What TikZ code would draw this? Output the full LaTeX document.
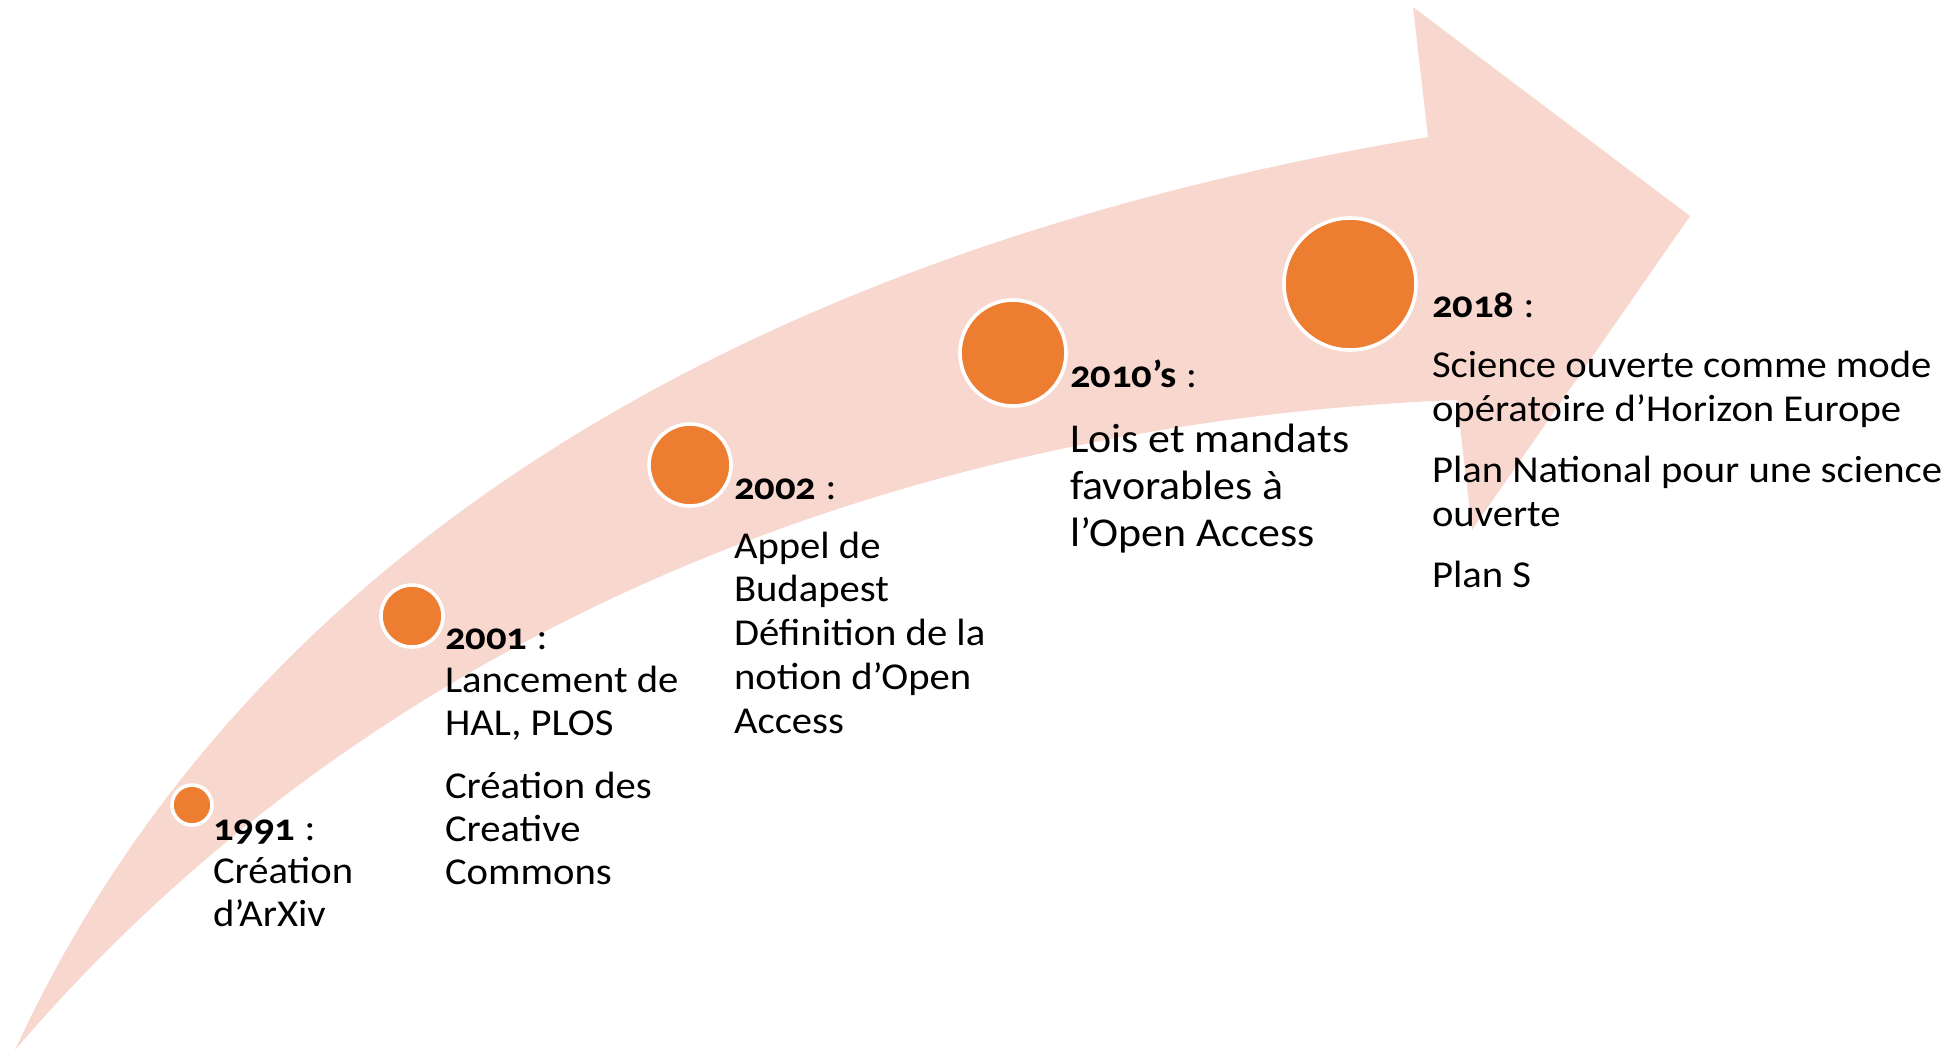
\documentclass[tikz,border=0pt]{standalone}
\usepackage{fontspec}
\setmainfont{Carlito}[Numbers=OldStyle, FakeStretch=1.07]
\definecolor{arrowfill}{RGB}{248,216,206}
\definecolor{dotorange}{RGB}{237,125,49}
\newcommand\myline[1]{\hbox{#1}}
\newcommand\myblock[2]{\vtop{\baselineskip=#1\relax\lineskiplimit=-20pt\lineskip=0pt #2}}
\tikzset{
  dotc/.style={circle, fill=dotorange, draw=white, line width=1.8pt, inner sep=0pt},
  txt/.style={anchor=base west, inner sep=0pt, outer sep=0pt, font=\fontsize{19pt}{21.75pt}\selectfont}
}
\begin{document}
\begin{tikzpicture}[x=0.5pt,y=-0.5pt]
\useasboundingbox (0,0) rectangle (1954,1051);
% curved arrow
\fill[arrowfill] (15,1050) .. controls (245,550) and (750,250) .. (1428,137)
  -- (1413,7) -- (1690,216) -- (1472,530) -- (1457,400)
  .. controls (950,420) and (400,600) .. (15,1050) -- cycle;
% milestones
\node[dotc, minimum size=20pt] (c1991) at (192,805) {};
\node[dotc, minimum size=31pt] (c2001) at (412,616) {};
\node[dotc, minimum size=41pt] (c2002) at (690,465) {};
\node[dotc, minimum size=53pt] (c2010) at (1013,353) {};
\node[dotc, minimum size=66pt] (c2018) at (1350,284) {};
% texts
\node[txt] (t1991) at (213,840) {\myblock{21.5pt}{%
  \myline{\textbf{1991} :}
  \myline{Création}
  \myline{d’ArXiv}}};
\node[txt] (t2001) at (445,649) {\myblock{21.5pt}{%
  \myline{\textbf{2001} :}
  \myline{Lancement de}
  \myline{HAL, PLOS}
  \vskip 10pt
  \myline{Création des}
  \myline{Creative}
  \myline{Commons}}};
\node[txt] (t2002) at (734,499) {\myblock{21.9pt}{%
  \myline{\textbf{2002} :}
  \vskip 7.6pt
  \myline{Appel de}
  \myline{Budapest}
  \myline{Définition de la}
  \myline{notion d’Open}
  \myline{Access}}};
\node[txt] (t2010) at (1070,387) {\myblock{23.5pt}{%
  \myline{\textbf{2010’s} :}
  \vskip 9pt
  \myline{\fontsize{20.5pt}{23.5pt}\selectfont Lois et mandats}
  \myline{\fontsize{20.5pt}{23.5pt}\selectfont favorables à}
  \myline{\fontsize{20.5pt}{23.5pt}\selectfont l’Open Access}}};
\node[txt] (t2018) at (1432,317) {\myblock{22pt}{%
  \myline{\textbf{2018} :}
  \vskip 8pt
  \myline{Science ouverte comme mode}
  \myline{opératoire d’Horizon Europe}
  \vskip 8.5pt
  \myline{Plan National pour une science}
  \myline{ouverte}
  \vskip 8.5pt
  \myline{Plan S}}};
\end{tikzpicture}
\end{document}
